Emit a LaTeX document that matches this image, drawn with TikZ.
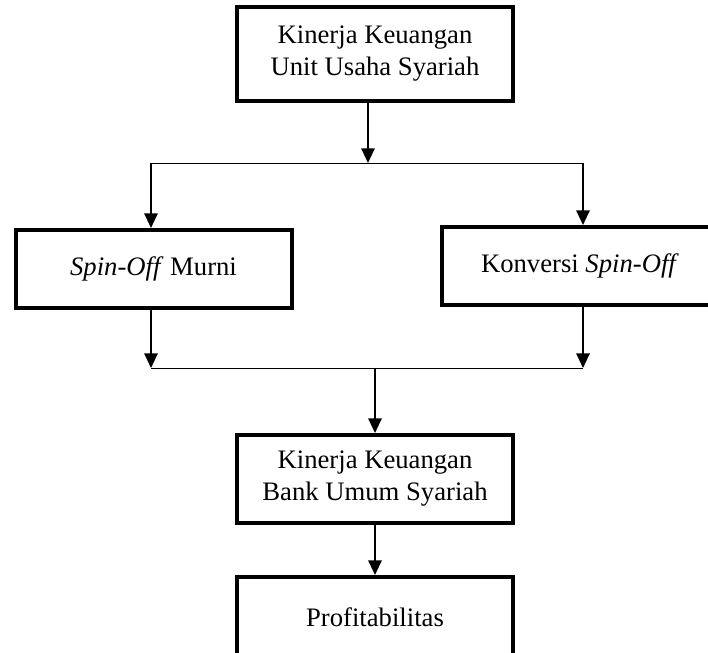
\documentclass[tikz,border=0pt]{standalone}
\usepackage{fontspec}
\setmainfont{Liberation Serif}
\usetikzlibrary{arrows.meta}

\begin{document}
\begin{tikzpicture}[
        x=0.75pt, y=-0.75pt,
        box/.style={
            rectangle, align=center,
            minimum width=207pt,
            draw=black, line width=3pt,
            font=\fontsize{20}{24}\selectfont,
        },
        link/.style={line width=0.75pt},
        arrow/.style={line width=1.5pt, -{Triangle[length=11pt, width=10pt]}},
    ]
        \useasboundingbox (0,0) rectangle (708,653);
        \clip (0,0) rectangle (708,653);

        \node (uus) at(375,54) [box, minimum height=70.5pt]
            {Kinerja Keuangan\\Unit Usaha Syariah};
        \node (murni) at(153.5,269) [box, minimum height=58.5pt]
            {\textit{Spin-Off} Murni};
        \node (konversi) at(580,266) [box, minimum height=58.5pt]
            {Konversi \textit{Spin-Off}};
        \node (bus) at(375,479) [box, minimum height=66pt]
            {Kinerja Keuangan\\Bank Umum Syariah};
        \node (profit) at(375,617) [box, minimum height=60pt]
            {Profitabilitas};

        \coordinate (split) at(368,163);
        \coordinate (splitL) at(151,163);
        \coordinate (splitR) at(583,163);
        \coordinate (join) at(375,368);
        \coordinate (joinL) at(151,368);
        \coordinate (joinR) at(583,368);

        \draw[link] (splitL) -- (splitR);
        \draw[link] (joinL) -- (joinR);

        \draw[arrow] (split |- uus.south) -- (split);
        \draw[arrow] (splitL) -- (splitL |- murni.north);
        \draw[arrow] (splitR) -- (splitR |- konversi.north);
        \draw[arrow] (joinL |- murni.south) -- (joinL);
        \draw[arrow] (joinR |- konversi.south) -- (joinR);
        \draw[arrow] (join) -- (join |- bus.north);
        \draw[arrow] (bus.south) -- (profit.north);
    \end{tikzpicture}
\end{document}
